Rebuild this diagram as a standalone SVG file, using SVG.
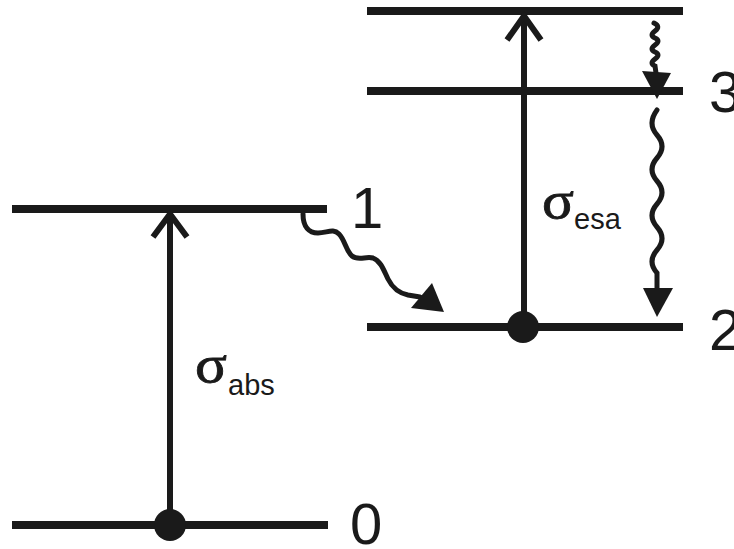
<svg xmlns="http://www.w3.org/2000/svg" width="734" height="549" viewBox="0 0 734 549">
  <style>
    .level { stroke: #1a1a1a; stroke-width: 8; fill: none; }
    .arrow { stroke: #1a1a1a; stroke-width: 6; fill: none; }
    .wave { stroke: #1a1a1a; stroke-width: 5; fill: none; stroke-linecap: round; }
    .head { fill: #1a1a1a; }
    .num { font-family: "Liberation Sans", Arial, sans-serif; font-size: 58px; fill: #1a1a1a; }
    .sig { font-family: "Liberation Serif", "Times New Roman", serif; font-size: 52px; fill: #1a1a1a; stroke: #1a1a1a; stroke-width: 0.8; }
    .sub { font-family: "Liberation Sans", Arial, sans-serif; font-size: 29px; fill: #1a1a1a; }
  </style>

  <!-- energy levels -->
  <g id="level0">
    <line class="level" x1="12" y1="525" x2="328" y2="525"/>
    <text class="num" x="350" y="544">0</text>
  </g>
  <g id="level1">
    <line class="level" x1="12" y1="209" x2="327" y2="209"/>
    <text class="num" x="351" y="228">1</text>
  </g>
  <g id="level2">
    <line class="level" x1="367" y1="327" x2="683" y2="327"/>
    <text class="num" x="709" y="350">2</text>
  </g>
  <g id="level3">
    <line class="level" x1="367" y1="91" x2="683" y2="91"/>
    <text class="num" x="709" y="112">3</text>
  </g>
  <g id="level4">
    <line class="level" x1="367" y1="11" x2="683" y2="11"/>
  </g>

  <!-- transitions -->
  <g id="connectors">
    <!-- ground-state absorption -->
    <line class="arrow" x1="170" y1="525" x2="170" y2="214"/>
    <polyline class="arrow" points="153,237 170,214 187,237"/>
    <circle cx="170" cy="525" r="16" fill="#1a1a1a"/>

    <!-- excited-state absorption -->
    <line class="arrow" x1="524" y1="327" x2="524" y2="16"/>
    <polyline class="arrow" points="507,40 524,16 541,40"/>
    <circle cx="523" cy="327" r="16" fill="#1a1a1a"/>

    <!-- non-radiative relaxation 1 to 2 -->
    <path class="wave" d="M303,214 C303,227 309,233 318,233 C327,233 333,228 339,234 C345,240 346,251 352,256 C358,261 366,256 373,258 C381,261 384,271 388,279 C392,287 398,293 408,295 L420,297"/>
    <polygon class="head" points="411,308 432,283 444,312"/>

    <!-- relaxation from top level to 3 -->
    <path class="wave" d="M654,23 Q661,26.5 655,31 T655,38 T655,45 T655,52 T655,59 T655,66 L656,73"/>
    <polygon class="head" points="642,71 671,73 657,99"/>

    <!-- relaxation 3 to 2 -->
    <path class="wave" d="M657,110 Q647,123.5 657,135 T657,158 T657,181 T657,204 T657,227 T657,250 T657,273 L657,290"/>
    <polygon class="head" points="643,288 673,288 657,317"/>
  </g>

  <!-- cross-section labels -->
  <g id="label-abs">
    <text class="sig" x="195" y="382" textLength="32" lengthAdjust="spacingAndGlyphs">σ</text>
    <text class="sub" x="228" y="395">abs</text>
  </g>
  <g id="label-esa">
    <text class="sig" x="542" y="218" textLength="32" lengthAdjust="spacingAndGlyphs">σ</text>
    <text class="sub" x="574" y="229">esa</text>
  </g>
</svg>
